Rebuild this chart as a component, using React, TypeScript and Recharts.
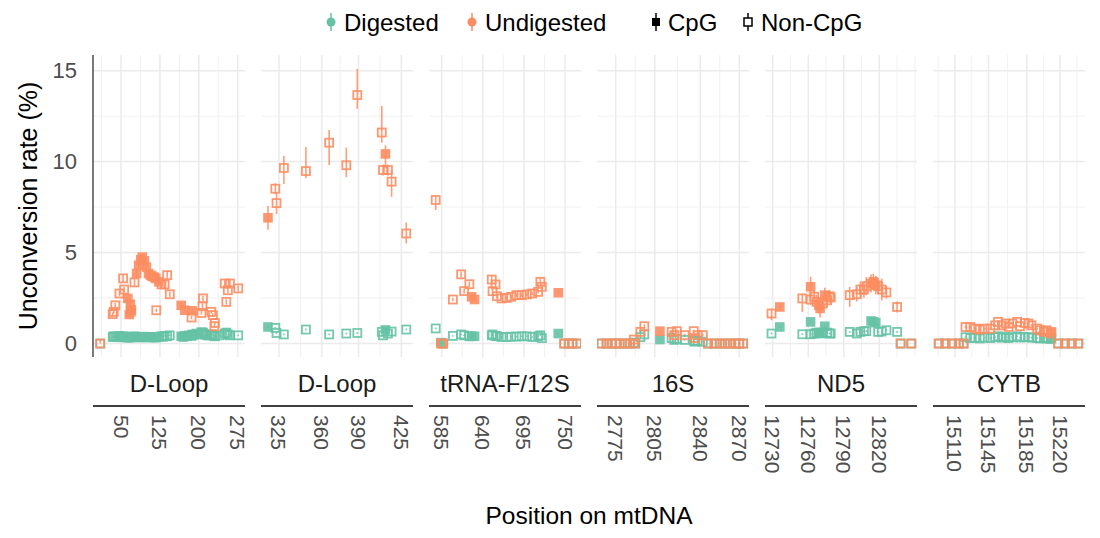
import React from "react";
import { ScatterChart, Scatter, XAxis, YAxis, CartesianGrid, ErrorBar } from "recharts";

// [position, rate, cpg (1/0), error (sym or [low, high])]
type Row = [number, number, number, number | [number, number]];

const GREEN = "#66C2A5";
const ORANGE = "#FC8D62";
const FONT = "'Liberation Sans', Arial, Helvetica, sans-serif";

const yTicks = [0, 5, 10, 15];
const yMinor = [2.5, 7.5, 12.5];
const yDomain = [-0.74, 15.86];

// ---- D-Loop (first block)
const dloopATicks = [50, 125, 200, 275];
const dloopAMinor = [12.5, 87.5, 162.5, 237.5];
const dloopAUndigested: Row[] = [
  [10, 0, 0, [0, 0.25]], [34, 1.62, 0, 0.1], [36, 1.74, 0, 0.1], [39, 2.1, 0, 0.15],
  [47, 2.75, 0, 0.15], [54, 3.58, 0, 0.2], [56, 2.97, 0, 0.15], [63, 2.48, 1, 0.15],
  [66, 1.6, 1, 0.1], [68, 2.16, 1, 0.15], [69, 1.75, 1, 0.1], [70, 1.85, 1, 0.1],
  [76, 3.36, 0, 0.2], [80, 3.85, 1, 0.2], [84, 4.3, 1, 0.2], [88, 4.6, 1, 0.2],
  [91, 4.75, 1, 0.2], [95, 4.55, 1, 0.2], [99, 4.2, 1, 0.2], [103, 3.85, 1, 0.2],
  [107, 3.75, 1, 0.2], [110, 3.7, 1, 0.2], [114, 3.65, 1, 0.2], [117, 3.58, 1, 0.2],
  [118, 1.83, 0, 0.1], [123, 3.39, 1, 0.2], [128, 3.25, 0, 0.2], [134, 3.25, 0, 0.2],
  [139, 3.76, 0, 0.2], [144, 2.71, 0, 0.15], [166, 2.1, 1, 0.15], [173, 1.83, 1, 0.1],
  [186, 1.43, 0, 0.1], [187, 1.8, 1, 0.1], [205, 1.68, 0, 0.1], [207, 2.05, 0, 0.15],
  [208, 2.48, 0, 0.15], [224, 1.74, 0, 0.1], [227, 1.56, 0, 0.1], [230, 0.95, 0, 0.1],
  [231, 1.13, 0, 0.1], [250, 3.3, 0, 0.2], [253, 2.29, 0, 0.15], [256, 2.93, 0, 0.15],
  [260, 3.3, 0, 0.2], [276, 3.03, 0, 0.15],
];
const dloopADigested: Row[] = [
  [10, 0, 0, 0], [34, 0.36, 0, 0.04], [36, 0.4, 0, 0.04], [39, 0.38, 0, 0.04], [42, 0.35, 1, 0.04],
  [47, 0.42, 0, 0.04], [50, 0.34, 1, 0.04], [54, 0.37, 0, 0.04], [56, 0.4, 0, 0.04], [60, 0.33, 1, 0.04],
  [63, 0.36, 1, 0.04], [66, 0.32, 1, 0.04], [68, 0.35, 1, 0.04], [70, 0.33, 1, 0.04], [73, 0.36, 1, 0.04],
  [76, 0.4, 0, 0.04], [80, 0.35, 1, 0.04], [84, 0.37, 1, 0.04], [88, 0.33, 1, 0.04], [91, 0.35, 1, 0.04],
  [95, 0.38, 1, 0.04], [99, 0.34, 1, 0.04], [103, 0.36, 1, 0.04], [107, 0.33, 1, 0.04], [110, 0.35, 1, 0.04],
  [114, 0.34, 1, 0.04], [117, 0.37, 1, 0.04], [118, 0.33, 0, 0.04], [123, 0.36, 1, 0.04], [128, 0.4, 0, 0.04],
  [131, 0.38, 0, 0.04], [134, 0.42, 0, 0.04], [139, 0.4, 0, 0.04], [144, 0.45, 0, 0.04], [166, 0.4, 1, 0.04],
  [170, 0.36, 1, 0.04], [173, 0.42, 1, 0.04], [177, 0.4, 1, 0.04], [181, 0.45, 1, 0.04], [186, 0.42, 0, 0.04],
  [187, 0.5, 1, 0.04], [191, 0.48, 1, 0.04], [195, 0.55, 1, 0.04], [199, 0.5, 1, 0.04], [205, 0.62, 0, 0.04],
  [207, 0.55, 0, 0.04], [208, 0.6, 0, 0.04], [212, 0.5, 0, 0.04], [216, 0.45, 0, 0.04], [220, 0.45, 0, 0.04],
  [224, 0.5, 0, 0.04], [227, 0.48, 0, 0.04], [230, 0.42, 0, 0.04], [231, 0.4, 0, 0.04], [240, 0.45, 0, 0.04],
  [250, 0.55, 0, 0.04], [253, 0.6, 0, 0.04], [256, 0.5, 0, 0.04], [260, 0.45, 0, 0.04], [276, 0.45, 0, 0.04],
];

// ---- D-Loop (second block)
const dloopBTicks = [325, 360, 390, 425];
const dloopBMinor = [342.5, 375, 407.5];
const dloopBUndigested: Row[] = [
  [316, 6.91, 1, 0.65], [322, 8.51, 0, 0.3], [323, 7.72, 0, 0.6], [329, 9.65, 0, [0.88, 0.66]],
  [347, 9.48, 0, [0.4, 1.32]], [366, 11.04, 0, [1.23, 0.7]], [380, 9.8, 0, [0.66, 0.97]],
  [389, 13.66, 0, [0.76, 1.44]], [409, 11.6, 0, [0.56, 1.46]], [410, 9.54, 0, 0.3],
  [412, 10.42, 1, [0.79, 0.48]], [414, 9.54, 0, 0.3], [417, 8.9, 0, [0.83, 0.64]], [429, 6.05, 0, [0.55, 0.61]],
];
const dloopBDigested: Row[] = [
  [316, 0.91, 1, 0.05], [322, 0.86, 0, 0.05], [323, 0.58, 0, 0.05], [329, 0.5, 0, 0.05],
  [347, 0.77, 0, 0.05], [366, 0.5, 0, 0.05], [380, 0.55, 0, 0.05], [389, 0.58, 0, 0.05],
  [409, 0.64, 0, 0.05], [410, 0.45, 0, 0.05], [412, 0.75, 1, 0.05], [414, 0.55, 0, 0.05],
  [417, 0.66, 0, 0.05], [429, 0.77, 0, 0.05],
];

// ---- tRNA-F/12S
const trnaTicks = [585, 640, 695, 750];
const trnaMinor = [612.5, 667.5, 722.5];
const trnaUndigested: Row[] = [
  [577, 7.89, 0, [0.55, 0.2]], [584, 0, 0, 0.05], [587, 0, 0, 0.05], [600, 2.42, 0, 0.1],
  [611, 3.8, 0, 0.15], [615, 2.88, 0, 0.15], [622, 3.26, 0, 0.15], [625, 2.57, 1, 0.1],
  [629, 2.42, 1, 0.1], [652, 3.52, 0, 0.2], [653, 2.88, 0, 0.15], [657, 3.25, 0, 0.15],
  [659, 2.6, 0, 0.1], [665, 2.48, 0, 0.1], [672, 2.51, 0, 0.1], [678, 2.57, 0, 0.1],
  [685, 2.66, 0, 0.1], [692, 2.66, 0, 0.1], [699, 2.7, 0, 0.1], [706, 2.75, 0, 0.1],
  [714, 2.84, 0, 0.1], [717, 3.39, 0, 0.2], [719, 3.12, 0, 0.15], [741, 2.79, 1, 0.1],
  [749, 0, 0, 0], [755, 0, 0, 0], [760, 0, 0, 0], [766, 0, 0, 0],
];
const trnaDigested: Row[] = [
  [577, 0.83, 0, 0.05], [584, 0.05, 1, 0.03], [587, 0, 0, 0.03], [600, 0.42, 0, 0.04],
  [611, 0.5, 0, 0.04], [615, 0.45, 0, 0.04], [622, 0.4, 0, 0.04], [625, 0.4, 1, 0.04],
  [629, 0.4, 1, 0.04], [652, 0.45, 0, 0.04], [653, 0.5, 0, 0.04], [657, 0.42, 0, 0.04],
  [659, 0.4, 0, 0.04], [665, 0.36, 0, 0.04], [672, 0.36, 0, 0.04], [678, 0.38, 0, 0.04],
  [685, 0.38, 0, 0.04], [692, 0.4, 0, 0.04], [699, 0.4, 0, 0.04], [706, 0.36, 0, 0.04],
  [714, 0.4, 0, 0.04], [717, 0.45, 0, 0.04], [719, 0.3, 0, 0.04], [741, 0.55, 1, 0.04],
  [749, 0, 0, 0], [755, 0, 0, 0], [760, 0, 0, 0], [766, 0, 0, 0],
];

// ---- 16S
const s16Ticks = [2775, 2805, 2840, 2870];
const s16Minor = [2790, 2822.5, 2855];
const s16Undigested: Row[] = [
  [2764, 0, 0, 0], [2768, 0, 0, 0], [2772, 0, 0, 0], [2775, 0, 0, 0], [2778, 0, 0, 0],
  [2782, 0, 0, 0], [2786, 0, 0, 0], [2789, 0.22, 0, 0.05], [2790, 0, 0, 0], [2794, 0.64, 0, 0.08],
  [2797, 0.95, 0, 0.1], [2809, 0.68, 1, 0.08], [2818, 0.64, 0, 0.08], [2820, 0.46, 0, 0.08],
  [2822, 0.68, 0, 0.08], [2828, 0.46, 0, 0.08], [2835, 0.68, 0, 0.08], [2836, 0.3, 0, 0.05],
  [2838, 0.46, 0, 0.08], [2842, 0.46, 0, 0.08], [2846, 0, 0, 0], [2851, 0, 0, 0], [2855, 0, 0, 0],
  [2859, 0, 0, 0], [2863, 0, 0, 0], [2867, 0, 0, 0], [2870, 0, 0, 0], [2873, 0, 0, 0],
];
const s16Digested: Row[] = [
  [2764, 0, 0, 0], [2768, 0, 0, 0], [2772, 0, 0, 0], [2775, 0, 0, 0], [2778, 0, 0, 0],
  [2782, 0, 0, 0], [2786, 0, 0, 0], [2789, 0.05, 0, 0], [2790, 0, 0, 0], [2794, 0.35, 0, 0.04],
  [2797, 0.5, 0, 0.04], [2809, 0.22, 1, 0.04], [2818, 0.3, 0, 0.04], [2820, 0.2, 0, 0.04],
  [2822, 0.25, 0, 0.04], [2828, 0.2, 0, 0.04], [2835, 0.15, 0, 0.04], [2836, 0.1, 0, 0.04],
  [2838, 0.15, 0, 0.04], [2842, 0.1, 0, 0.04], [2846, 0, 0, 0], [2851, 0, 0, 0], [2855, 0, 0, 0],
  [2859, 0, 0, 0], [2863, 0, 0, 0], [2867, 0, 0, 0], [2870, 0, 0, 0], [2873, 0, 0, 0],
];

// ---- ND5
const nd5Ticks = [12730, 12760, 12790, 12820];
const nd5Minor = [12745, 12775, 12805, 12835, 12850];
const nd5Undigested: Row[] = [
  [12729, 1.65, 0, [0.37, 0.28]], [12736, 2.01, 1, 0.15], [12755, 2.48, 0, [0.74, 0.27]],
  [12762, 3.12, 1, 0.55], [12762, 2.42, 0, 0.3], [12765, 2.57, 0, 0.35], [12767, 2.29, 0, 0.4],
  [12769, 2.1, 1, 0.45], [12770, 1.93, 1, [0.5, 0.45]], [12772, 2.2, 0, 0.4], [12774, 2.66, 1, 0.4],
  [12776, 2.38, 0, 0.4], [12778, 2.6, 0, 0.35], [12779, 2.53, 0, 0.3], [12795, 2.66, 0, [0.65, 0.46]],
  [12801, 2.71, 0, 0.4], [12804, 2.97, 0, 0.45], [12807, 2.97, 0, 0.45], [12809, 3.15, 0, 0.5],
  [12813, 3.3, 1, 0.5], [12815, 3.39, 1, 0.45], [12817, 3.21, 1, 0.5], [12819, 3.15, 0, 0.45],
  [12822, 2.97, 0, 0.6], [12826, 2.81, 0, 0.35], [12835, 2.01, 0, 0.3], [12838, 0, 0, 0], [12847, 0, 0, 0],
];
const nd5Digested: Row[] = [
  [12729, 0.55, 0, 0.05], [12736, 0.91, 1, 0.05], [12755, 0.51, 0, 0.05], [12762, 1.19, 1, 0.06],
  [12762, 0.51, 0, 0.05], [12765, 0.55, 0, 0.05], [12767, 0.6, 0, 0.05], [12769, 0.6, 1, 0.05],
  [12770, 0.55, 1, 0.05], [12772, 0.6, 0, 0.05], [12774, 0.95, 1, 0.05], [12776, 0.6, 0, 0.05],
  [12778, 0.55, 0, 0.05], [12779, 0.55, 0, 0.05], [12795, 0.64, 0, 0.05], [12801, 0.55, 0, 0.05],
  [12804, 0.64, 0, 0.05], [12807, 0.68, 0, 0.05], [12809, 0.68, 0, 0.05], [12813, 1.24, 1, 0.06],
  [12815, 1.2, 1, 0.06], [12817, 1.15, 1, 0.06], [12819, 0.64, 0, 0.05], [12822, 0.66, 0, 0.05],
  [12826, 0.73, 0, 0.05], [12835, 0.64, 0, 0.05], [12838, 0, 0, 0], [12847, 0, 0, 0],
];

// ---- CYTB
const cytbTicks = [15110, 15145, 15185, 15220];
const cytbMinor = [15092.5, 15127.5, 15165, 15202.5, 15237.5];
const cytbUndigested: Row[] = [
  [15093, 0, 0, 0], [15100, 0, 0, 0], [15107, 0, 0, 0], [15114, 0, 0, 0], [15119, 0, 0, 0],
  [15121, 0.91, 0, 0.06], [15126, 0.91, 0, 0.06], [15131, 0.82, 0, 0.06], [15136, 0.77, 0, 0.06],
  [15141, 0.82, 0, 0.06], [15147, 0.82, 0, 0.06], [15152, 1.0, 0, 0.06], [15155, 1.19, 0, 0.06],
  [15159, 1.0, 0, 0.06], [15163, 1.1, 0, 0.06], [15166, 0.91, 0, 0.06], [15170, 1.1, 0, 0.06],
  [15175, 1.19, 0, 0.06], [15178, 0.95, 0, 0.06], [15183, 1.13, 0, 0.06], [15187, 1.1, 0, 0.06],
  [15190, 1.0, 0, 0.06], [15196, 0.82, 0, 0.06], [15199, 0.73, 0, 0.06], [15203, 0.64, 0, 0.06],
  [15206, 0.73, 0, 0.06], [15210, 0.55, 0, 0.06], [15211, 0.64, 1, 0.06], [15218, 0, 0, 0],
  [15225, 0, 0, 0], [15232, 0, 0, 0], [15239, 0, 0, 0],
];
const cytbDigested: Row[] = [
  [15093, 0, 0, 0], [15100, 0, 0, 0], [15107, 0, 0, 0], [15114, 0, 0, 0], [15119, 0, 0, 0],
  [15121, 0.35, 0, 0.04], [15126, 0.3, 0, 0.04], [15131, 0.32, 0, 0.04], [15136, 0.28, 0, 0.04],
  [15141, 0.33, 0, 0.04], [15147, 0.3, 0, 0.04], [15152, 0.35, 0, 0.04], [15155, 0.4, 0, 0.04],
  [15159, 0.32, 0, 0.04], [15163, 0.36, 0, 0.04], [15166, 0.3, 0, 0.04], [15170, 0.35, 0, 0.04],
  [15175, 0.4, 0, 0.04], [15178, 0.33, 0, 0.04], [15183, 0.36, 0, 0.04], [15187, 0.35, 0, 0.04],
  [15190, 0.32, 0, 0.04], [15196, 0.3, 0, 0.04], [15199, 0.28, 0, 0.04], [15203, 0.3, 0, 0.04],
  [15206, 0.28, 0, 0.04], [15210, 0.25, 0, 0.04], [15211, 0.3, 1, 0.04], [15218, 0, 0, 0],
  [15225, 0, 0, 0], [15232, 0, 0, 0], [15239, 0, 0, 0],
];

const PANEL_W = 152;
const PAD = 16; // room for rotated tick labels at the panel edges
const panels = [
  { name: "D-Loop", left: 93, domain: [-4, 289], ticks: dloopATicks, minor: dloopAMinor, dig: dloopADigested, und: dloopAUndigested },
  { name: "D-Loop", left: 261, domain: [310.3, 434.5], ticks: dloopBTicks, minor: dloopBMinor, dig: dloopBDigested, und: dloopBUndigested },
  { name: "tRNA-F/12S", left: 429, domain: [568, 771.4], ticks: trnaTicks, minor: trnaMinor, dig: trnaDigested, und: trnaUndigested },
  { name: "16S", left: 597, domain: [2760.6, 2877.5], ticks: s16Ticks, minor: s16Minor, dig: s16Digested, und: s16Undigested },
  { name: "ND5", left: 765, domain: [12723.5, 12851.8], ticks: nd5Ticks, minor: nd5Minor, dig: nd5Digested, und: nd5Undigested },
  { name: "CYTB", left: 933, domain: [15087, 15246], ticks: cytbTicks, minor: cytbMinor, dig: cytbDigested, und: cytbUndigested },
];

const toPoints = (rows: Row[]) => rows.map(([x, y, cpg, err]) => ({ x, y, cpg, err }));

const makeShape = (color: string) => (props: any) => {
  const { cx, cy, payload } = props;
  if (cx == null || cy == null) return <g />;
  if (payload && payload.cpg) {
    return <rect x={cx - 4.8} y={cy - 4.8} width={9.6} height={9.6} fill={color} fillOpacity={0.9} />;
  }
  return (
    <rect x={cx - 4} y={cy - 4} width={8} height={8} fill="none" stroke={color} strokeWidth={1.8} strokeOpacity={0.9} />
  );
};

const RotTick = (props: any) => {
  const { x, y, payload } = props;
  const ty = y + 58;
  return (
    <text
      x={x}
      y={ty}
      transform={`rotate(90 ${x} ${ty})`}
      textAnchor="start"
      dominantBaseline="central"
      fontSize={21}
      fontFamily={FONT}
      fill="#4D4D4D"
    >
      {payload.value}
    </text>
  );
};

const Panel = ({ p, first }: any) => {
  const dig = toPoints(p.dig);
  const und = toPoints(p.und);
  const leftPad = first ? 0 : PAD;
  return (
    <div style={{ position: "absolute", left: first ? 0 : p.left - PAD, top: 0 }}>
      <ScatterChart
        width={(first ? p.left : PAD) + PANEL_W + PAD}
        height={490}
        margin={{ top: 55, right: PAD, bottom: 10, left: leftPad }}
      >
        <CartesianGrid horizontalValues={yMinor} verticalValues={p.minor} stroke="#EFEFEF" strokeWidth={0.9} />
        <CartesianGrid horizontalValues={yTicks} verticalValues={p.ticks} stroke="#EBEBEB" strokeWidth={1.5} />
        <XAxis
          type="number"
          dataKey="x"
          domain={p.domain}
          allowDataOverflow
          ticks={p.ticks}
          interval={0}
          tick={<RotTick />}
          tickLine={false}
          axisLine={false}
          tickSize={0}
          tickMargin={0}
          height={123}
        />
        <YAxis
          type="number"
          dataKey="y"
          domain={yDomain}
          allowDataOverflow
          ticks={yTicks}
          hide={!first}
          width={93}
          tickLine={false}
          tickSize={0}
          tickMargin={16}
          axisLine={{ stroke: "#4D4D4D", strokeWidth: 1.5 }}
          tick={{ fontSize: 22, fill: "#4D4D4D", fontFamily: FONT }}
          label={{
            value: "Unconversion rate (%)",
            angle: -90,
            position: "insideLeft",
            offset: 28,
            textAnchor: "middle",
            fontSize: 25,
            fill: "#000",
            fontFamily: FONT,
          }}
        />
        <Scatter data={dig} shape={makeShape(GREEN)} isAnimationActive={false}>
          <ErrorBar dataKey="err" direction="y" width={0} stroke={GREEN} strokeWidth={1.6} strokeOpacity={0.85} />
        </Scatter>
        <Scatter data={und} shape={makeShape(ORANGE)} isAnimationActive={false}>
          <ErrorBar dataKey="err" direction="y" width={0} stroke={ORANGE} strokeWidth={1.6} strokeOpacity={0.85} />
        </Scatter>
      </ScatterChart>
    </div>
  );
};

export default function App() {
  return (
    <div style={{ position: "absolute", left: 0, top: 0, width: 1100, height: 538, background: "#fff", fontFamily: FONT, overflow: "hidden" }}>
      {panels.map((p, i) => (
        <Panel key={i} p={p} first={i === 0} />
      ))}
      <svg width={1100} height={538} style={{ position: "absolute", left: 0, top: 0, pointerEvents: "none" }} fontFamily={FONT}>
        {panels.map((p, i) => (
          <g key={i}>
            <text x={p.left + PANEL_W / 2} y={383} textAnchor="middle" dominantBaseline="central" fontSize={24} fill="#1A1A1A">
              {p.name}
            </text>
            <line x1={p.left} x2={p.left + PANEL_W} y1={406} y2={406} stroke="#000" strokeWidth={1.5} />
          </g>
        ))}
        <text x={589} y={515} textAnchor="middle" dominantBaseline="central" fontSize={24.5} fill="#000">
          Position on mtDNA
        </text>
        {/* legend */}
        <line x1={331} x2={331} y1={13} y2={31} stroke={GREEN} strokeWidth={1.5} />
        <circle cx={331} cy={22} r={4.5} fill={GREEN} />
        <text x={344} y={22} dominantBaseline="central" fontSize={24}>Digested</text>
        <line x1={472} x2={472} y1={13} y2={31} stroke={ORANGE} strokeWidth={1.5} />
        <circle cx={472} cy={22} r={4.5} fill={ORANGE} />
        <text x={485} y={22} dominantBaseline="central" fontSize={24}>Undigested</text>
        <line x1={656} x2={656} y1={13} y2={31} stroke="#000" strokeWidth={1.5} />
        <rect x={652} y={18} width={8} height={8} fill="#000" />
        <text x={668} y={22} dominantBaseline="central" fontSize={24}>CpG</text>
        <line x1={748} x2={748} y1={13} y2={31} stroke="#000" strokeWidth={1.5} />
        <rect x={744} y={18} width={8} height={8} fill="#fff" stroke="#000" strokeWidth={1.5} />
        <text x={761} y={22} dominantBaseline="central" fontSize={24}>Non-CpG</text>
      </svg>
    </div>
  );
}
